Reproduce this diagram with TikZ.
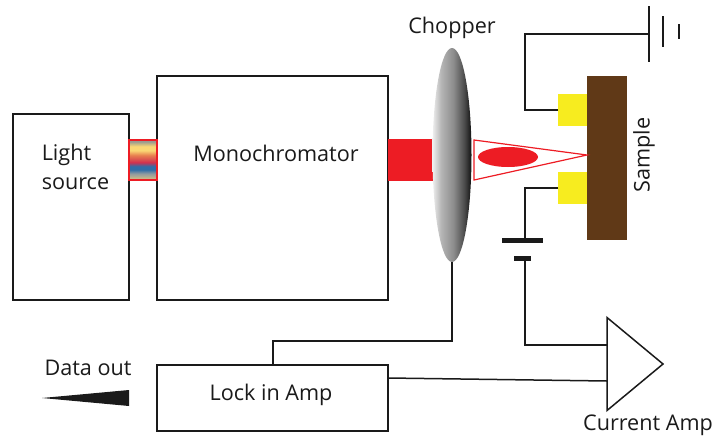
\documentclass[tikz,border=0pt]{standalone}
\usepackage{fontspec}
\setmainfont{Open Sans}
\usetikzlibrary{arrows.meta, positioning, calc, shapes.geometric}
\definecolor{beamred}{HTML}{ED1C24}
\definecolor{contact}{HTML}{F7EC1F}
\definecolor{samplebrown}{HTML}{603917}
\definecolor{wire}{HTML}{1A1A1A}
\definecolor{sptan}{HTML}{C9B98A}
\definecolor{spgrey}{HTML}{8E9AA0}
\definecolor{spblue}{HTML}{2F6DA8}
\definecolor{spred}{HTML}{D0304F}
\definecolor{sporange}{HTML}{E8804F}
\definecolor{spyellow}{HTML}{FAD774}
\definecolor{spash}{HTML}{9A9A90}
\definecolor{chlight}{HTML}{EFEFEF}
\definecolor{chmid}{HTML}{B5B5B5}
\definecolor{chgrey}{HTML}{8C8C8C}
\definecolor{chdark}{HTML}{4A4A4A}
\definecolor{chblack}{HTML}{111111}
\pgfdeclareverticalshading{spectrum}{100bp}{
  color(0bp)=(sptan); color(27bp)=(sptan); color(33bp)=(spgrey); color(38bp)=(spblue);
  color(42bp)=(spblue); color(47bp)=(spred); color(56bp)=(sporange);
  color(62bp)=(spyellow); color(67bp)=(spyellow); color(73bp)=(spash); color(100bp)=(spash)}
\pgfdeclarehorizontalshading{chopperdisc}{100bp}{
  color(0bp)=(chlight); color(25bp)=(chlight); color(36bp)=(chmid);
  color(52bp)=(chgrey); color(66bp)=(chdark); color(75bp)=(chblack); color(100bp)=(chblack)}
\newcommand{\lbl}{\fontsize{21.6}{26}\selectfont}
\tikzset{
  blockbox/.style={draw=wire, line width=1.5pt, fill=white, outer sep=0pt, inner sep=0pt},
  wirepath/.style={draw=wire, line width=1.5pt},
  contactpad/.style={fill=contact, minimum width=29pt, minimum height=32pt, outer sep=0pt, inner sep=0pt},
  plate/.style={fill=wire, inner sep=0pt, outer sep=0pt},
  caption/.style={font=\lbl, text=wire, inner sep=0pt}
}

\begin{document}
\begin{tikzpicture}[x=1pt, y=-1pt, line width=1.5pt]
\useasboundingbox (0,0) rectangle (715,439);

% Boxes
\node[blockbox, minimum width=116pt, minimum height=186pt] (lightsource) at (71,207) {};
\node[blockbox, minimum width=231pt, minimum height=224pt] (mono) at (272.5,188) {};
\node[blockbox, minimum width=231pt, minimum height=66pt] (lockin) at (272.5,398) {};

% Colour strip and beam
\node[draw=beamred, line width=1.5pt, shading=spectrum, minimum width=28pt, minimum height=40pt, inner sep=0pt, outer sep=0pt] (strip) at (143,160) {};
\node[fill=beamred, minimum width=46pt, minimum height=42pt, inner sep=0pt, outer sep=0pt] (beam) at (411,160) {};

% Chopper
\node[ellipse, shading=chopperdisc, minimum width=39pt, minimum height=214pt, inner sep=0pt, outer sep=0pt] (chopper) at (452,155) {};

% Sample
\node[fill=samplebrown, minimum width=40pt, minimum height=164pt, inner sep=0pt, outer sep=0pt] (sample) at (607,158) {};
\node[contactpad] (topcontact) at (572.5,110) {};
\node[contactpad] (botcontact) at (572.5,188) {};

% Focused spot
\coordinate (focus) at (587,155);
\draw[beamred, line width=1.2pt] (474,140) -- (focus) -- (474,180) -- cycle;
\node[ellipse, fill=beamred, minimum width=60pt, minimum height=20pt, inner sep=0pt] (spot) at (508,157) {};

% Ground
\node[plate, minimum width=1.5pt, minimum height=56pt] (gnda) at (649,34) {};
\node[plate, minimum width=1.5pt, minimum height=31pt] (gndb) at (663,31.5) {};
\node[plate, minimum width=2pt, minimum height=15pt] (gndc) at (679,31.5) {};
\coordinate (gndcorner) at (525,34);
\draw[wirepath] (topcontact.west) -| (gndcorner) -- (gnda.west);

% Battery
\node[plate, minimum width=41pt, minimum height=5pt] (batlong) at (522.5,240.5) {};
\node[plate, minimum width=17pt, minimum height=5pt] (batshort) at (522.5,258.5) {};
\coordinate (batin) at (525,238);
\draw[wirepath] (botcontact.west) -| (batin);

% Current amp
\node[isosceles triangle, isosceles triangle stretches, draw=wire, line width=1.5pt, fill=white, minimum width=93pt, minimum height=56pt, inner sep=0pt, outer sep=0pt, anchor=west] (amp) at (607,364) {};
\coordinate (ampin) at (607,345);
\coordinate (ampref) at (607,381);
\draw[wirepath] (batin |- batshort.south) |- (ampin);
\coordinate (lockout) at (388,378);
\draw[wirepath] (lockout) -- (ampref);

% Chopper reference
\coordinate (lockref) at (273,365);
\draw[wirepath] (chopper.south) |- (273,341) -- (lockref);

% Data out wedge
\coordinate (datatip) at (42,398);
\fill[wire] (datatip) -- (129,390) -- (129,406) -- cycle;

% Labels
\node[caption, anchor=west] (lightlbl) at (41,155) {Light};
\node[caption, anchor=west] (sourcelbl) at (41,184) {source};
\node[caption] (monolbl) at (276,153.5) {Monochromator};
\node[caption] (choplbl) at (452,28) {Chopper};
\node[caption, rotate=90] (samplelbl) at (644,155) {Sample};
\node[caption] (datalbl) at (88,368) {Data out};
\node[caption] (locklbl) at (271,395) {Lock in Amp};
\node[caption] (amplbl) at (648,425) {Current Amp};

\end{tikzpicture}
\end{document}
